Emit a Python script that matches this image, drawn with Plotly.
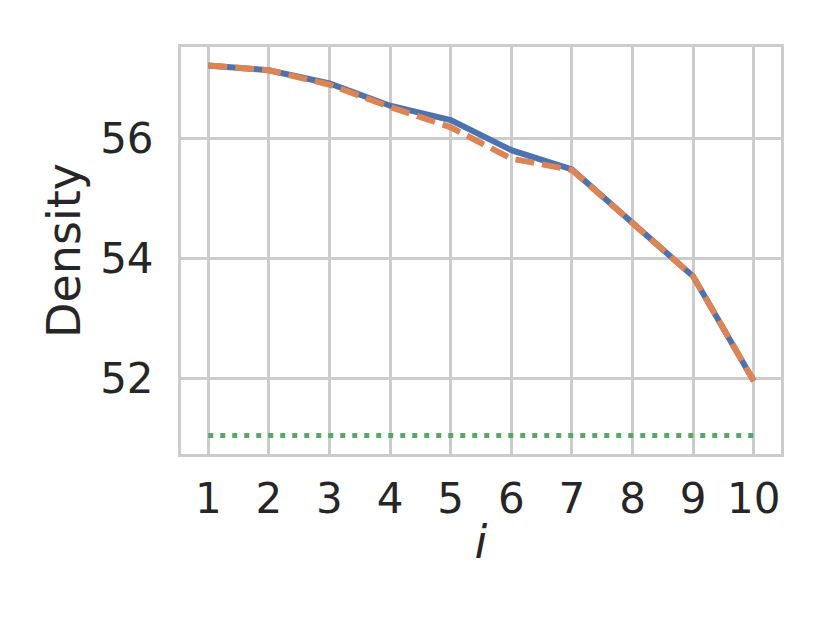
import plotly.graph_objects as go

# data
i_vals = [1, 2, 3, 4, 5, 6, 7, 8, 9, 10]
density_a = [57.21, 57.13, 56.91, 56.54, 56.30, 55.80, 55.48, 54.60, 53.70, 51.96]
density_b = [57.21, 57.13, 56.89, 56.52, 56.18, 55.66, 55.47, 54.60, 53.70, 51.96]
baseline = [51.05] * len(i_vals)

BLUE = "#4C72B0"
ORANGE = "#DD8452"
GREEN = "#55A868"
GRID = "#cccccc"
TEXT = "#262626"

fig = go.Figure()
fig.add_trace(go.Scatter(x=i_vals, y=density_a, mode="lines",
                         line=dict(color=BLUE, width=6)))
fig.add_trace(go.Scatter(x=i_vals, y=density_b, mode="lines",
                         line=dict(color=ORANGE, width=6, dash="19px,8px")))
fig.add_trace(go.Scatter(x=i_vals, y=baseline, mode="lines",
                         line=dict(color=GREEN, width=5, dash="5px,7px")))

axis_common = dict(
    showgrid=True, gridcolor=GRID, gridwidth=2.5,
    showline=True, linecolor=GRID, linewidth=3, mirror=True,
    zeroline=False, ticks="", automargin=False,
    tickfont=dict(size=42, color=TEXT),
)

fig.update_layout(
    width=830, height=623,
    margin=dict(l=181, r=49, t=47, b=169),
    paper_bgcolor="white", plot_bgcolor="white",
    font=dict(family="DejaVu Sans", color=TEXT),
    showlegend=False,
    xaxis=dict(range=[0.55, 10.45], tickvals=i_vals, ticklabelstandoff=6,
               title=dict(text="<i>i</i>", font=dict(size=46, color=TEXT), standoff=4),
               **axis_common),
    yaxis=dict(range=[50.743, 57.517], tickvals=[52, 54, 56], ticklabelstandoff=16,
               title=dict(text="Density", font=dict(size=46, color=TEXT), standoff=6),
               **axis_common),
)

# drop the browser's default body margin so the figure sits at the page origin
fig.write_html("out.html", config={"displayModeBar": False},
               post_script="document.body.style.margin = '0';")
